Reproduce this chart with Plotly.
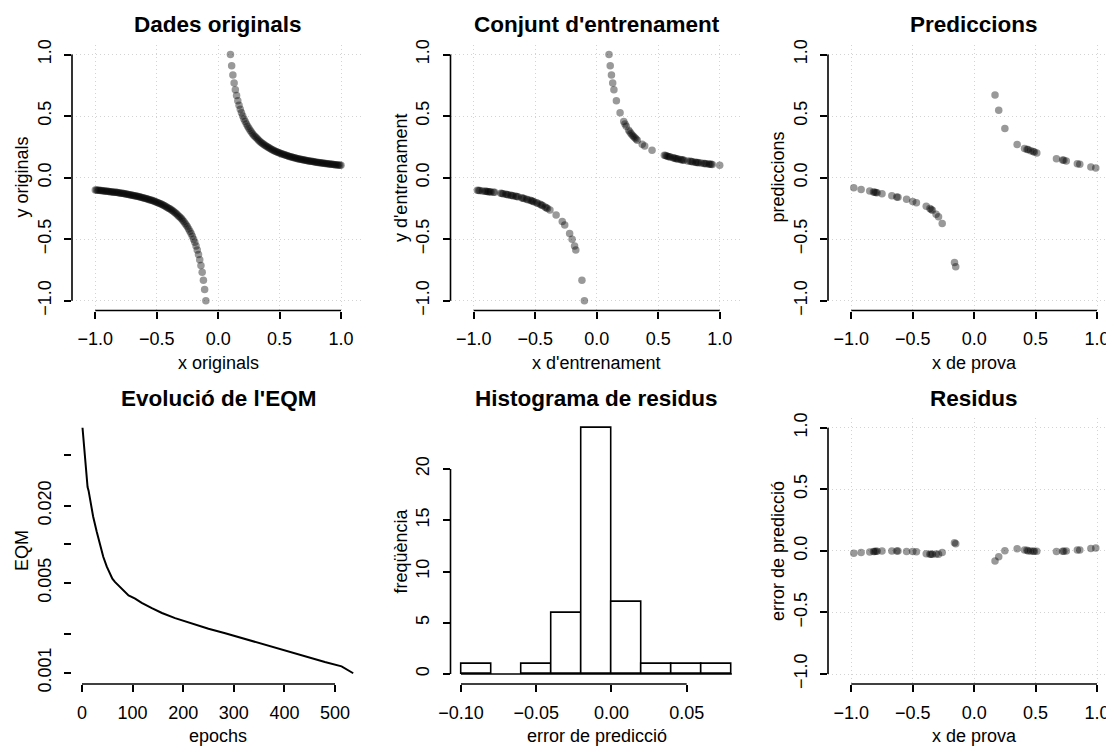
import math
import plotly.graph_objects as go

# The page body has an 8px default margin: lay the figure out in page pixels
OFF = 8
W, H = 1114 - OFF, 749 - OFF
FONT = "Liberation Sans"

# ---------------- data ----------------
x_orig = [
    -1.00, -0.99, -0.98, -0.97, -0.96, -0.95, -0.94, -0.93, -0.92, -0.91,
    -0.90, -0.89, -0.88, -0.87, -0.86, -0.85, -0.84, -0.83, -0.82, -0.81,
    -0.80, -0.79, -0.78, -0.77, -0.76, -0.75, -0.74, -0.73, -0.72, -0.71,
    -0.70, -0.69, -0.68, -0.67, -0.66, -0.65, -0.64, -0.63, -0.62, -0.61,
    -0.60, -0.59, -0.58, -0.57, -0.56, -0.55, -0.54, -0.53, -0.52, -0.51,
    -0.50, -0.49, -0.48, -0.47, -0.46, -0.45, -0.44, -0.43, -0.42, -0.41,
    -0.40, -0.39, -0.38, -0.37, -0.36, -0.35, -0.34, -0.33, -0.32, -0.31,
    -0.30, -0.29, -0.28, -0.27, -0.26, -0.25, -0.24, -0.23, -0.22, -0.21,
    -0.20, -0.19, -0.18, -0.17, -0.16, -0.15, -0.14, -0.13, -0.12, -0.11,
    -0.10,
    0.10, 0.11, 0.12, 0.13, 0.14, 0.15, 0.16, 0.17, 0.18, 0.19,
    0.20, 0.21, 0.22, 0.23, 0.24, 0.25, 0.26, 0.27, 0.28, 0.29,
    0.30, 0.31, 0.32, 0.33, 0.34, 0.35, 0.36, 0.37, 0.38, 0.39,
    0.40, 0.41, 0.42, 0.43, 0.44, 0.45, 0.46, 0.47, 0.48, 0.49,
    0.50, 0.51, 0.52, 0.53, 0.54, 0.55, 0.56, 0.57, 0.58, 0.59,
    0.60, 0.61, 0.62, 0.63, 0.64, 0.65, 0.66, 0.67, 0.68, 0.69,
    0.70, 0.71, 0.72, 0.73, 0.74, 0.75, 0.76, 0.77, 0.78, 0.79,
    0.80, 0.81, 0.82, 0.83, 0.84, 0.85, 0.86, 0.87, 0.88, 0.89,
    0.90, 0.91, 0.92, 0.93, 0.94, 0.95, 0.96, 0.97, 0.98, 0.99,
    1.00,
]
y_orig = [
    -0.100, -0.101, -0.102, -0.103, -0.104, -0.105, -0.106, -0.108, -0.109, -0.110,
    -0.111, -0.112, -0.114, -0.115, -0.116, -0.118, -0.119, -0.120, -0.122, -0.123,
    -0.125, -0.127, -0.128, -0.130, -0.132, -0.133, -0.135, -0.137, -0.139, -0.141,
    -0.143, -0.145, -0.147, -0.149, -0.152, -0.154, -0.156, -0.159, -0.161, -0.164,
    -0.167, -0.169, -0.172, -0.175, -0.179, -0.182, -0.185, -0.189, -0.192, -0.196,
    -0.200, -0.204, -0.208, -0.213, -0.217, -0.222, -0.227, -0.233, -0.238, -0.244,
    -0.250, -0.256, -0.263, -0.270, -0.278, -0.286, -0.294, -0.303, -0.313, -0.323,
    -0.333, -0.345, -0.357, -0.370, -0.385, -0.400, -0.417, -0.435, -0.455, -0.476,
    -0.500, -0.526, -0.556, -0.588, -0.625, -0.667, -0.714, -0.769, -0.833, -0.909,
    -1.000,
    1.000, 0.909, 0.833, 0.769, 0.714, 0.667, 0.625, 0.588, 0.556, 0.526,
    0.500, 0.476, 0.455, 0.435, 0.417, 0.400, 0.385, 0.370, 0.357, 0.345,
    0.333, 0.323, 0.313, 0.303, 0.294, 0.286, 0.278, 0.270, 0.263, 0.256,
    0.250, 0.244, 0.238, 0.233, 0.227, 0.222, 0.217, 0.213, 0.208, 0.204,
    0.200, 0.196, 0.192, 0.189, 0.185, 0.182, 0.179, 0.175, 0.172, 0.169,
    0.167, 0.164, 0.161, 0.159, 0.156, 0.154, 0.152, 0.149, 0.147, 0.145,
    0.143, 0.141, 0.139, 0.137, 0.135, 0.133, 0.132, 0.130, 0.128, 0.127,
    0.125, 0.123, 0.122, 0.120, 0.119, 0.118, 0.116, 0.115, 0.114, 0.112,
    0.111, 0.110, 0.109, 0.108, 0.106, 0.105, 0.104, 0.103, 0.102, 0.101,
    0.100,
]

x_train = [
    -0.97, -0.96, -0.95, -0.93, -0.91, -0.90, -0.89, -0.88, -0.87, -0.86,
    -0.84, -0.83, -0.78, -0.77, -0.76, -0.74, -0.73, -0.72, -0.70, -0.69,
    -0.68, -0.66, -0.65, -0.64, -0.61, -0.60, -0.59, -0.57, -0.56, -0.54,
    -0.53, -0.52, -0.51, -0.49, -0.48, -0.46, -0.45, -0.44, -0.42, -0.41,
    -0.40, -0.38, -0.33, -0.28, -0.26, -0.22, -0.20, -0.18, -0.17, -0.12,
    -0.10,
    0.10, 0.11, 0.12, 0.13, 0.14, 0.16, 0.19, 0.22, 0.23, 0.24,
    0.26, 0.27, 0.28, 0.29, 0.30, 0.31, 0.32, 0.33, 0.37, 0.39,
    0.45, 0.55, 0.56, 0.57, 0.58, 0.59, 0.60, 0.62, 0.63, 0.64,
    0.65, 0.66, 0.68, 0.69, 0.70, 0.71, 0.74, 0.76, 0.77, 0.78,
    0.80, 0.81, 0.82, 0.83, 0.85, 0.87, 0.88, 0.89, 0.91, 0.92,
    0.93, 0.94, 1.00,
]
y_train = [
    -0.103, -0.104, -0.105, -0.108, -0.110, -0.111, -0.112, -0.114, -0.115, -0.116,
    -0.119, -0.120, -0.128, -0.130, -0.132, -0.135, -0.137, -0.139, -0.143, -0.145,
    -0.147, -0.152, -0.154, -0.156, -0.164, -0.167, -0.169, -0.175, -0.179, -0.185,
    -0.189, -0.192, -0.196, -0.204, -0.208, -0.217, -0.222, -0.227, -0.238, -0.244,
    -0.250, -0.263, -0.303, -0.357, -0.385, -0.455, -0.500, -0.556, -0.588, -0.833,
    -1.000,
    1.000, 0.909, 0.833, 0.769, 0.714, 0.625, 0.526, 0.455, 0.435, 0.417,
    0.385, 0.370, 0.357, 0.345, 0.333, 0.323, 0.313, 0.303, 0.270, 0.256,
    0.222, 0.182, 0.179, 0.175, 0.172, 0.169, 0.167, 0.161, 0.159, 0.156,
    0.154, 0.152, 0.147, 0.145, 0.143, 0.141, 0.135, 0.132, 0.130, 0.128,
    0.125, 0.123, 0.122, 0.120, 0.118, 0.115, 0.114, 0.112, 0.110, 0.109,
    0.108, 0.106, 0.100,
]

x_test = [
    -0.98, -0.92, -0.85, -0.82, -0.81, -0.80, -0.79, -0.75, -0.67, -0.63,
    -0.62, -0.55, -0.50, -0.47, -0.39, -0.36, -0.35, -0.34, -0.31, -0.29,
    -0.26, -0.16, -0.15,
    0.17, 0.20, 0.25, 0.35, 0.41, 0.43, 0.44, 0.46, 0.48, 0.49,
    0.51, 0.67, 0.72, 0.73, 0.75, 0.84, 0.86, 0.95, 0.99,
]
y_pred = [
    -0.083, -0.096, -0.108, -0.116, -0.118, -0.121, -0.124, -0.131, -0.148, -0.157,
    -0.160, -0.176, -0.195, -0.205, -0.232, -0.251, -0.259, -0.266, -0.298, -0.318,
    -0.372, -0.690, -0.725,
    0.670, 0.548, 0.399, 0.268, 0.237, 0.229, 0.228, 0.219, 0.212, 0.208,
    0.200, 0.154, 0.143, 0.140, 0.134, 0.113, 0.109, 0.086, 0.078,
]
resid = [
    -0.019, -0.013, -0.010, -0.006, -0.005, -0.004, -0.003, -0.002, -0.001, -0.002,
    -0.001, -0.006, -0.005, -0.008, -0.024, -0.027, -0.027, -0.028, -0.025, -0.027,
    -0.013, 0.065, 0.058,
    -0.082, -0.048, 0.001, 0.018, 0.007, 0.004, -0.001, -0.002, -0.004, -0.004,
    -0.004, -0.005, -0.004, -0.003, -0.001, 0.006, 0.007, 0.019, 0.023,
]

epoch = [1, 3, 5, 8, 10, 11, 13, 16, 22, 29, 36, 42, 49, 55, 60, 65, 78, 92,
         105, 118, 138, 158, 184, 217, 250, 283, 316, 349, 381, 414, 447,
         480, 513, 536]
eqm = [0.0810, 0.0640, 0.0530, 0.0380, 0.0310, 0.0280, 0.0262, 0.0222,
       0.0165, 0.0126, 0.0099, 0.0080, 0.0067, 0.0059, 0.0054, 0.0051,
       0.0045, 0.0040, 0.00378, 0.00350, 0.00318, 0.00292, 0.00266,
       0.00242, 0.00220, 0.00203, 0.00186, 0.00170, 0.00156, 0.00143,
       0.00132, 0.00121, 0.00112, 0.00099]

hist_start, hist_end, hist_size = -0.10, 0.08, 0.02

titles = ["Dades originals", "Conjunt d'entrenament", "Prediccions",
          "Evolució de l'EQM", "Histograma de residus", "Residus"]
xlabels = ["x originals", "x d'entrenament", "x de prova",
           "epochs", "error de predicció", "x de prova"]
ylabels = ["y originals", "y d'entrenament", "prediccions",
           "EQM", "freqüència", "error de predicció"]

unit_ticks = [-1.0, -0.5, 0.0, 0.5, 1.0]
unit_text = ["\u22121.0", "\u22120.5", "0.0", "0.5", "1.0"]
epoch_ticks = [0, 100, 200, 300, 400, 500]
eqm_ticks = [0.001, 0.002, 0.005, 0.01, 0.02, 0.05]
eqm_text = ["0.001", "", "0.005", "", "0.020", ""]
hist_xticks = [-0.10, -0.05, 0.00, 0.05]
hist_xtext = ["\u22120.10", "\u22120.05", "0.00", "0.05"]
hist_yticks = [0, 5, 10, 15, 20]

# ---------------- geometry (page pixels) ----------------
cols = [(72.0, 364.0), (450.5, 742.5), (828.0, 1114.0)]
rows = [(44.65, 310.5), (417.9, 684.0)]
COL_W = 292.0


def rng(lo_px, hi_px, v1, p1, v2, p2):
    s = (v2 - v1) / (p2 - p1)
    return [v1 + (lo_px - p1) * s, v1 + (hi_px - p1) * s]


def px(p):
    return (p - OFF) / W


def py(p):
    return 1 - (p - OFF) / H


# calibration: (value, pixel, value, pixel)
panels = [
    dict(c=0, r=0, xc=(-1, 95.3, 1, 341.0), yc=(-1, 300.7, 1, 54.5), grid=True,
         xt=unit_ticks, xtt=unit_text, yt=unit_ticks, ytt=unit_text, log=False),
    dict(c=1, r=0, xc=(-1, 473.7, 1, 719.7), yc=(-1, 300.7, 1, 54.5), grid=True,
         xt=unit_ticks, xtt=unit_text, yt=unit_ticks, ytt=unit_text, log=False),
    dict(c=2, r=0, xc=(-1, 851.3, 1, 1097.0), yc=(-1, 300.7, 1, 54.5), grid=True,
         xt=unit_ticks, xtt=unit_text, yt=unit_ticks, ytt=unit_text, log=False),
    dict(c=0, r=1, xc=(0, 82.0, 500, 335.0), yc=(-3, 672.7, math.log10(0.005), 583.0), grid=False,
         xt=epoch_ticks, xtt=[str(v) for v in epoch_ticks], yt=eqm_ticks, ytt=eqm_text, log=True),
    dict(c=1, r=1, xc=(-0.10, 461.0, 0.05, 686.7), yc=(0, 674.0, 20, 469.0), grid=False,
         xt=hist_xticks, xtt=hist_xtext, yt=hist_yticks, ytt=[str(v) for v in hist_yticks], log=False),
    dict(c=2, r=1, xc=(-1, 851.3, 1, 1097.0), yc=(-1, 674.0, 1, 427.7), grid=True,
         xt=unit_ticks, xtt=unit_text, yt=unit_ticks, ytt=unit_text, log=False),
]

fig = go.Figure()
marker = dict(color="rgba(0,0,0,0.4)", size=7.5, line=dict(width=0))

fig.add_trace(go.Scatter(x=x_orig, y=y_orig, mode="markers", marker=marker, xaxis="x", yaxis="y"))
fig.add_trace(go.Scatter(x=x_train, y=y_train, mode="markers", marker=marker, xaxis="x2", yaxis="y2"))
fig.add_trace(go.Scatter(x=x_test, y=y_pred, mode="markers", marker=marker, xaxis="x3", yaxis="y3"))
fig.add_trace(go.Scatter(x=epoch, y=eqm, mode="lines", line=dict(color="black", width=2.0),
                         xaxis="x4", yaxis="y4"))
fig.add_trace(go.Histogram(x=resid, xbins=dict(start=hist_start, end=hist_end, size=hist_size),
                           autobinx=False,
                           marker=dict(color="white", line=dict(color="black", width=1.6)),
                           xaxis="x5", yaxis="y5"))
fig.add_trace(go.Scatter(x=x_test, y=resid, mode="markers", marker=marker, xaxis="x6", yaxis="y6"))

layout = dict(template="none", width=W, height=H,
              margin=dict(l=0, r=0, t=0, b=0, pad=0, autoexpand=False),
              paper_bgcolor="white", plot_bgcolor="white", showlegend=False,
              font=dict(family=FONT, size=18, color="black"), bargap=0)
shapes = []
annotations = []
LW = 1.6

# baseline of the histogram rectangles (R draws empty bins as a flat line)
shapes.append(dict(type="line", xref="x5", yref="y5", x0=hist_start, x1=hist_end, y0=0, y1=0,
                   line=dict(color="black", width=1.6)))

for i, p in enumerate(panels):
    n = "" if i == 0 else str(i + 1)
    c0, c1 = cols[p["c"]]
    r0, r1 = rows[p["r"]]
    xr = rng(c0, c1, *p["xc"])
    yr = rng(r1, r0, *p["yc"])
    common = dict(showgrid=p["grid"], gridcolor="#d3d3d3", griddash="1px,3px", gridwidth=1,
                  zeroline=False, showline=False, ticks="outside", ticklen=7,
                  tickwidth=LW, tickcolor="black", automargin=False,
                  tickfont=dict(family=FONT, size=18, color="black"))
    layout["xaxis" + n] = dict(common, domain=[px(c0), min(px(c1), 1.0)], range=xr,
                               anchor="y" + n, tickmode="array", tickvals=p["xt"],
                               ticktext=p["xtt"], ticklabelstandoff=5)
    ydict = dict(common, domain=[py(r1), py(r0)], range=yr, anchor="x" + n,
                 tickmode="array", tickvals=p["yt"], ticktext=p["ytt"], tickangle=-90,
                 ticklabelstandoff=6)
    if p["log"]:
        ydict["type"] = "log"
    layout["yaxis" + n] = ydict

    # R-style axis lines spanning first..last tick
    shapes.append(dict(type="line", xref="x" + n, yref="paper",
                       x0=p["xt"][0], x1=p["xt"][-1], y0=py(r1), y1=py(r1),
                       line=dict(color="black", width=LW)))
    y_lo, y_hi = p["yt"][0], p["yt"][-1]
    if p["log"]:
        y_lo, y_hi = math.log10(y_lo), math.log10(y_hi)
    shapes.append(dict(type="line", xref="paper", yref="y" + n,
                       x0=px(c0), x1=px(c0), y0=y_lo, y1=y_hi,
                       line=dict(color="black", width=LW)))

    col_center = c0 + COL_W / 2
    title_y = 24.4 if p["r"] == 0 else 398.0
    annotations.append(dict(text="<b>" + titles[i] + "</b>", xref="paper", yref="paper",
                            x=px(col_center), y=py(title_y), xanchor="center", yanchor="middle",
                            showarrow=False, font=dict(family=FONT, size=22.5, color="black")))
    annotations.append(dict(text=xlabels[i], xref="paper", yref="paper",
                            x=px(col_center), y=py(r1 + 52.0), xanchor="center", yanchor="middle",
                            showarrow=False, font=dict(family=FONT, size=18, color="black")))
    annotations.append(dict(text=ylabels[i], xref="paper", yref="paper",
                            x=px(c0 - 50.0), y=py((r0 + r1) / 2), xanchor="center", yanchor="middle",
                            textangle=-90, showarrow=False,
                            font=dict(family=FONT, size=18, color="black")))

layout["shapes"] = shapes
layout["annotations"] = annotations
fig.update_layout(**layout)
fig.write_html("out.html")
